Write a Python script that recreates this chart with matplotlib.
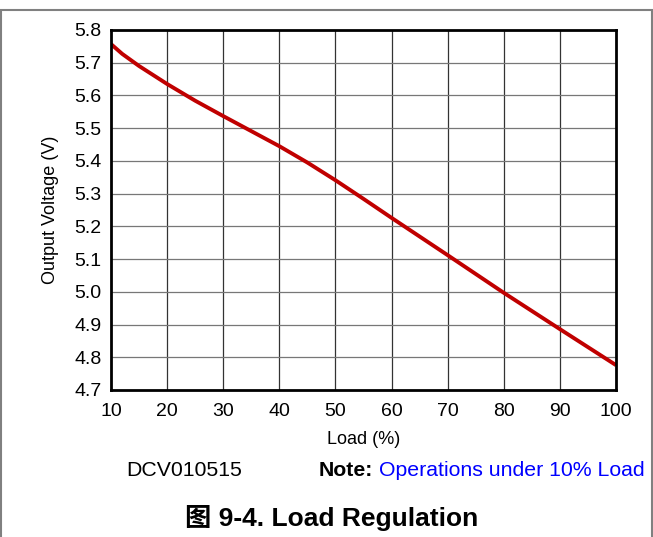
import matplotlib
matplotlib.use("Agg")
import matplotlib.pyplot as plt
from matplotlib.patches import Rectangle

plt.rcParams['font.family'] = ['Liberation Sans', 'Noto Sans CJK SC']

# Datos
carga = [10, 12, 15, 20, 25, 30, 35, 40, 45, 50, 55, 60, 70, 80, 90, 100]
voltaje = [5.757, 5.727, 5.690, 5.635, 5.584, 5.537, 5.491, 5.445, 5.395, 5.341,
           5.284, 5.226, 5.112, 4.997, 4.886, 4.776]
ticks_x = [10, 20, 30, 40, 50, 60, 70, 80, 90, 100]
ticks_y = [4.7, 4.8, 4.9, 5.0, 5.1, 5.2, 5.3, 5.4, 5.5, 5.6, 5.7, 5.8]

fig = plt.figure(figsize=(6.53, 5.37), dpi=100)
ax = fig.add_axes([111 / 653, 1 - 390 / 537, 505 / 653, 360 / 537])

ax.plot(carga, voltaje, color='#c00000', linewidth=2.8, solid_capstyle='butt')
ax.set_xlim(10, 100)
ax.set_ylim(4.7, 5.8)
ax.set_xticks(ticks_x)
ax.set_yticks(ticks_y)
ax.set_yticklabels(["%.1f" % v for v in ticks_y])
ax.tick_params(length=0, labelsize=14, pad=7)
ax.tick_params(axis='x', pad=9)

# Rejilla
for v in ticks_x[1:-1]:
    ax.axvline(v, color='#333333', linewidth=0.9, zorder=0)
for v in ticks_y[1:-1]:
    ax.axhline(v, color='#777777', linewidth=0.9, zorder=0)

for s in ax.spines.values():
    s.set_linewidth(2)
    s.set_color('black')

ax.set_xlabel("Load (%)", fontsize=13, labelpad=8)
ax.set_ylabel("Output Voltage (V)", fontsize=13, labelpad=11)

# Textos inferiores
fig.text(184 / 653, 1 - 470 / 537, "DCV010515", fontsize=15.3, ha='center', va='center')
fig.text(319 / 653, 1 - 470 / 537, "Note:", fontsize=15.3, fontweight='bold', ha='left', va='center')
fig.text(379 / 653, 1 - 470 / 537, "Operations under 10% Load", fontsize=15.3,
         color='#0000ff', ha='left', va='center')
fig.text(332 / 653, 1 - 518 / 537, "图 9-4. Load Regulation", fontsize=19,
         fontweight='bold', ha='center', va='center')

# Marco exterior
fig.patches.append(Rectangle((1 / 653, -0.01), 651 / 653, 1 - 10 / 537 + 0.01,
                             transform=fig.transFigure, fill=False,
                             edgecolor='#808080', linewidth=1.5))

fig.savefig("out.png", dpi=100)
